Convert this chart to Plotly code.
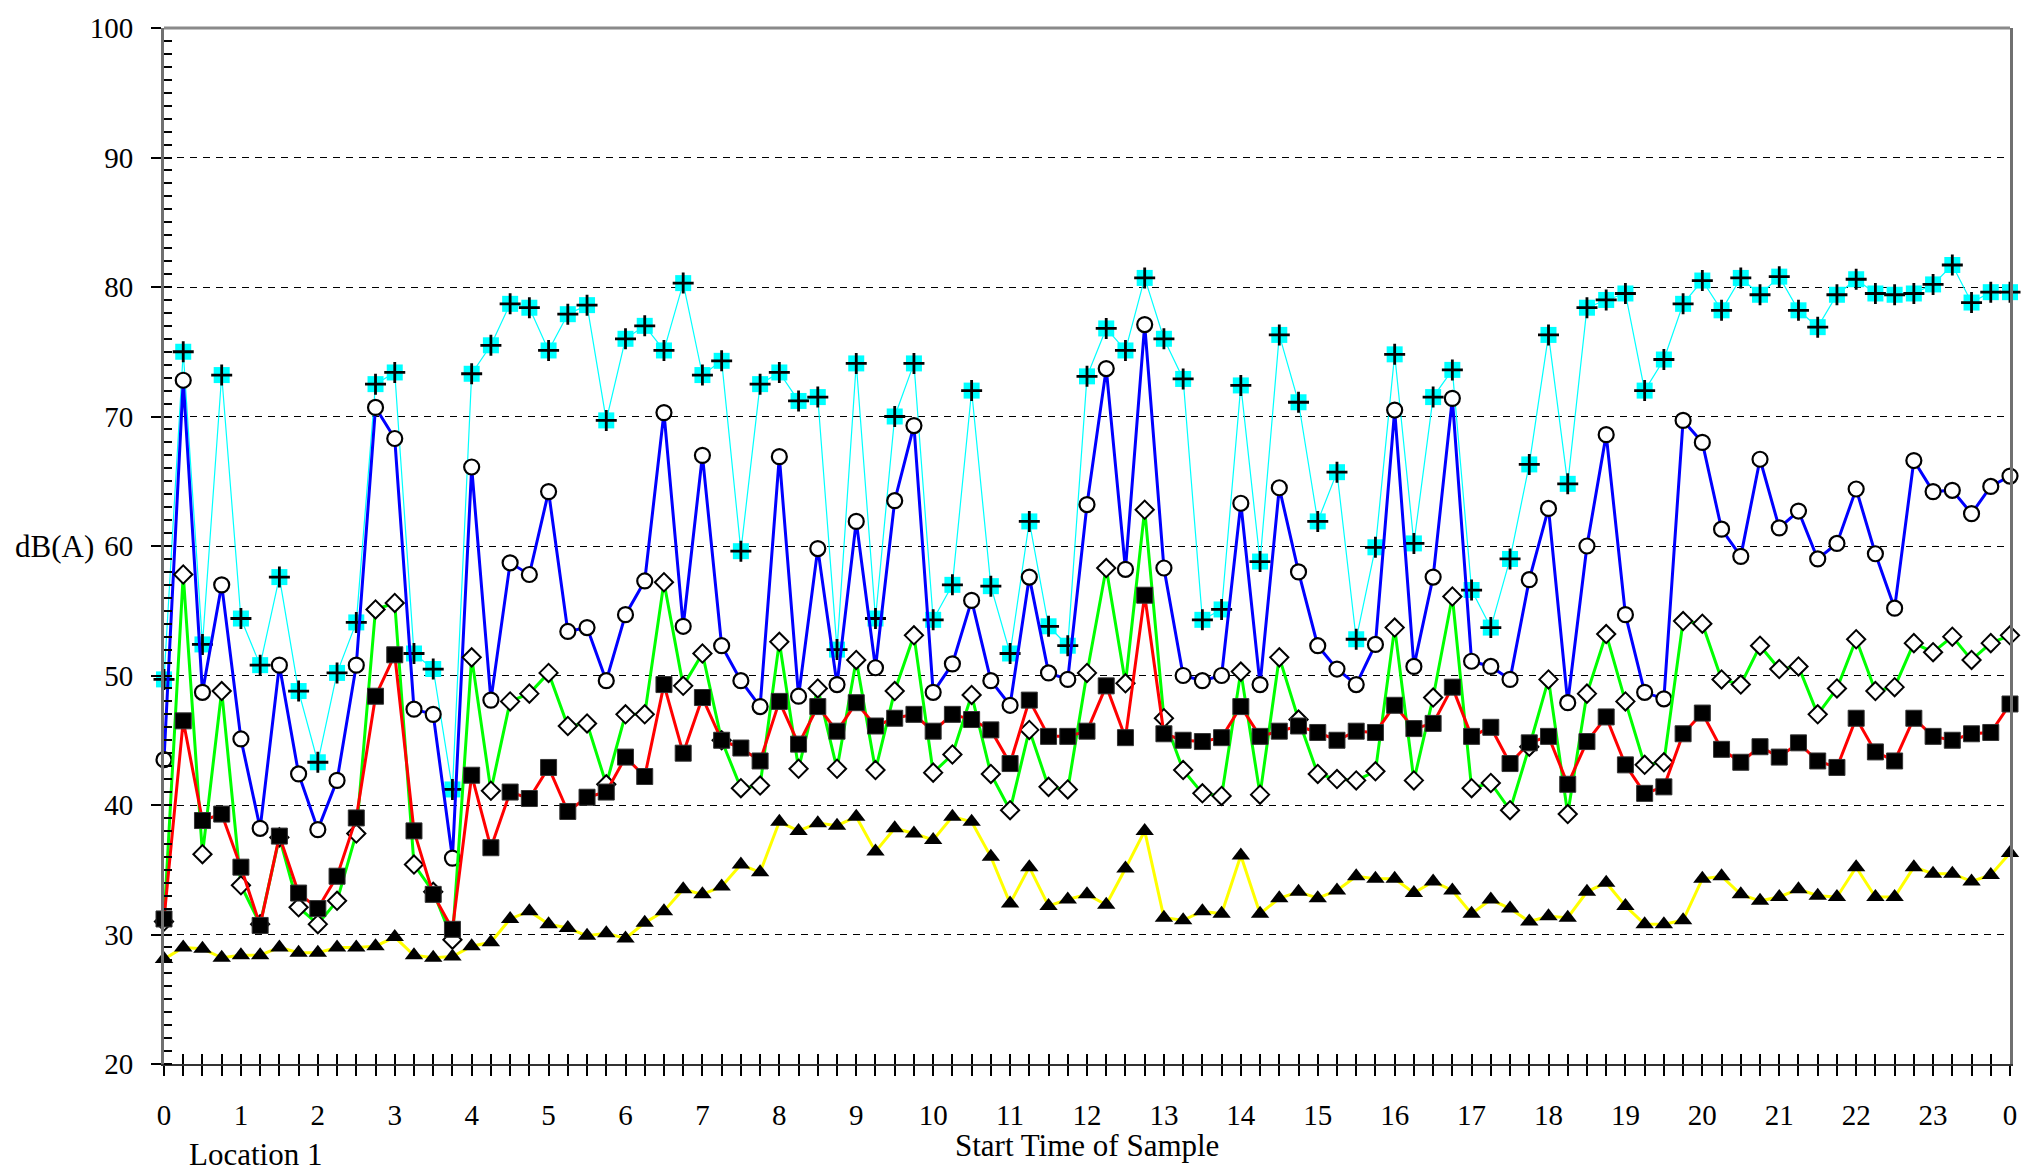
import plotly.graph_objects as go

# Quarter-hour sample start times (hours from midnight)
times = [i / 4 for i in range(97)]
hour_ticks = list(range(25))
hour_labels = [str(h % 24) for h in range(25)]

# Cyan series (square with cross markers)
lmax = [49.7, 75.0, 52.4, 73.2,
        54.4, 50.8, 57.6, 48.8,
        43.3, 50.2, 54.1, 72.5,
        73.4, 51.7, 50.5, 41.2,
        73.3, 75.5, 78.7, 78.4,
        75.1, 77.9, 78.6, 69.7,
        76.0, 77.0, 75.1, 80.3,
        73.2, 74.3, 59.6, 72.5,
        73.4, 71.2, 71.5, 52.0,
        74.1, 54.4, 70.0, 74.1,
        54.3, 57.0, 72.0, 56.9,
        51.7, 61.9, 53.8, 52.3,
        73.1, 76.8, 75.1, 80.7,
        76.0, 72.9, 54.3, 55.1,
        72.4, 58.8, 76.3, 71.1,
        61.9, 65.7, 52.8, 59.9,
        74.8, 60.2, 71.5, 73.6,
        56.6, 53.7, 59.0, 66.3,
        76.3, 64.8, 78.4, 79.0,
        79.5, 72.0, 74.4, 78.7,
        80.5, 78.2, 80.7, 79.4,
        80.8, 78.2, 76.9, 79.4,
        80.6, 79.5, 79.4, 79.5,
        80.2, 81.7, 78.8, 79.6,
        79.6]

# Blue series (open circles)
l1 = [43.5, 72.8, 48.7, 57.0,
      45.1, 38.2, 50.8, 42.4,
      38.1, 41.9, 50.8, 70.7,
      68.3, 47.4, 47.0, 35.9,
      66.1, 48.1, 58.7, 57.8,
      64.2, 53.4, 53.7, 49.6,
      54.7, 57.3, 70.3, 53.8,
      67.0, 52.3, 49.6, 47.6,
      66.9, 48.4, 59.8, 49.3,
      61.9, 50.6, 63.5, 69.3,
      48.7, 50.9, 55.8, 49.6,
      47.7, 57.6, 50.2, 49.7,
      63.2, 73.7, 58.2, 77.1,
      58.3, 50.0, 49.6, 50.0,
      63.3, 49.3, 64.5, 58.0,
      52.3, 50.5, 49.3, 52.4,
      70.5, 50.7, 57.6, 71.4,
      51.1, 50.7, 49.7, 57.4,
      62.9, 47.9, 60.0, 68.6,
      54.7, 48.7, 48.2, 69.7,
      68.0, 61.3, 59.2, 66.7,
      61.4, 62.7, 59.0, 60.2,
      64.4, 59.4, 55.2, 66.6,
      64.2, 64.3, 62.5, 64.6,
      65.4]

# Green series (open diamonds)
l10 = [31.0, 57.8, 36.2, 48.8,
       33.8, 30.8, 37.5, 32.1,
       30.8, 32.6, 37.8, 55.1,
       55.6, 35.4, 33.3, 29.6,
       51.4, 41.1, 48.0, 48.6,
       50.2, 46.1, 46.3, 41.6,
       47.0, 47.0, 57.2, 49.2,
       51.7, 45.0, 41.3, 41.5,
       52.6, 42.8, 49.0, 42.8,
       51.2, 42.7, 48.8, 53.1,
       42.5, 43.9, 48.5, 42.4,
       39.6, 45.8, 41.4, 41.2,
       50.2, 58.3, 49.4, 62.8,
       46.7, 42.7, 40.9, 40.7,
       50.3, 40.8, 51.4, 46.6,
       42.4, 42.0, 41.9, 42.6,
       53.7, 41.9, 48.3, 56.1,
       41.3, 41.7, 39.6, 44.5,
       49.7, 39.3, 48.6, 53.2,
       48.0, 43.1, 43.3, 54.2,
       54.0, 49.7, 49.3, 52.3,
       50.5, 50.7, 47.0, 49.0,
       52.8, 48.8, 49.1, 52.5,
       51.8, 53.0, 51.2, 52.5,
       53.1]

# Red series (filled squares)
leq = [31.2, 46.5, 38.8, 39.3,
       35.2, 30.7, 37.6, 33.2,
       32.0, 34.5, 39.0, 48.4,
       51.6, 38.0, 33.1, 30.4,
       42.3, 36.7, 41.0, 40.5,
       42.9, 39.5, 40.6, 41.0,
       43.7, 42.2, 49.3, 44.0,
       48.3, 45.0, 44.4, 43.4,
       48.0, 44.7, 47.6, 45.7,
       47.9, 46.1, 46.7, 47.0,
       45.7, 47.0, 46.6, 45.8,
       43.2, 48.1, 45.3, 45.3,
       45.7, 49.2, 45.2, 56.2,
       45.5, 45.0, 44.9, 45.2,
       47.6, 45.3, 45.7, 46.1,
       45.6, 45.0, 45.7, 45.6,
       47.7, 45.9, 46.3, 49.1,
       45.3, 46.0, 43.2, 44.8,
       45.3, 41.6, 44.9, 46.8,
       43.1, 40.9, 41.4, 45.5,
       47.1, 44.3, 43.3, 44.5,
       43.7, 44.8, 43.4, 42.9,
       46.7, 44.1, 43.4, 46.7,
       45.3, 45.0, 45.5, 45.6,
       47.8]

# Yellow series (filled triangles)
l90 = [28.1, 29.0, 28.9, 28.2,
       28.4, 28.4, 29.0, 28.6,
       28.6, 29.0, 29.0, 29.1,
       29.8, 28.4, 28.2, 28.3,
       29.1, 29.4, 31.2, 31.8,
       30.8, 30.5, 29.9, 30.1,
       29.7, 30.9, 31.8, 33.5,
       33.1, 33.7, 35.4, 34.8,
       38.7, 38.0, 38.6, 38.4,
       39.1, 36.4, 38.2, 37.8,
       37.3, 39.1, 38.7, 36.0,
       32.4, 35.2, 32.2, 32.7,
       33.1, 32.3, 35.1, 38.0,
       31.3, 31.1, 31.8, 31.6,
       36.1, 31.6, 32.8, 33.3,
       32.8, 33.4, 34.5, 34.3,
       34.3, 33.2, 34.1, 33.4,
       31.6, 32.7, 32.0, 31.0,
       31.4, 31.3, 33.3, 34.0,
       32.2, 30.8, 30.8, 31.1,
       34.3, 34.5, 33.1, 32.6,
       32.9, 33.5, 33.0, 32.9,
       35.2, 32.9, 32.9, 35.2,
       34.7, 34.7, 34.1, 34.6,
       36.3]

FONT = "Liberation Serif"

fig = go.Figure()

fig.add_trace(go.Scatter(
    x=times, y=lmax, mode="lines+markers", cliponaxis=False,
    line=dict(color="#00FFFF", width=1.2),
    marker=dict(symbol="square", size=16, color="#00FFFF", line=dict(width=0)),
    showlegend=False))
fig.add_trace(go.Scatter(
    x=times, y=lmax, mode="markers", cliponaxis=False,
    marker=dict(symbol="cross-thin", size=15, color="black",
                line=dict(width=2.8, color="black")),
    showlegend=False))
fig.add_trace(go.Scatter(
    x=times, y=l1, mode="lines+markers", cliponaxis=False,
    line=dict(color="#0000FF", width=3),
    marker=dict(symbol="circle", size=15, color="white",
                line=dict(width=2.2, color="black")),
    showlegend=False))
fig.add_trace(go.Scatter(
    x=times, y=l10, mode="lines+markers", cliponaxis=False,
    line=dict(color="#00FF00", width=3),
    marker=dict(symbol="diamond", size=14, color="white",
                line=dict(width=2, color="black")),
    showlegend=False))
fig.add_trace(go.Scatter(
    x=times, y=leq, mode="lines+markers", cliponaxis=False,
    line=dict(color="#FF0000", width=3),
    marker=dict(symbol="square", size=16, color="black",
                line=dict(width=1, color="#333333")),
    showlegend=False))
fig.add_trace(go.Scatter(
    x=times, y=l90, mode="lines+markers", cliponaxis=False, xaxis="x2",
    line=dict(color="#FFFF00", width=3),
    marker=dict(symbol="triangle-up", size=16, color="black",
                line=dict(width=0)),
    showlegend=False))

tickfont = dict(family=FONT, size=29, color="black")
titlefont = dict(family=FONT, size=31, color="black")

fig.update_layout(
    width=2034, height=1174,
    margin=dict(l=164, r=24, t=22, b=110),
    paper_bgcolor="white", plot_bgcolor="white",
    font=dict(family=FONT, size=29, color="black"),
    xaxis=dict(
        range=[0, 24], tickmode="array", tickvals=hour_ticks, ticktext=hour_labels,
        ticks="outside", ticklen=10, tickwidth=1.5, tickcolor="black",
        minor=dict(tickmode="linear", tick0=0, dtick=0.25, ticks="outside",
                   ticklen=10, tickwidth=1.5, tickcolor="black", showgrid=False),
        showline=True, linecolor="#333333", linewidth=2,
        showgrid=False, zeroline=False, tickfont=tickfont,
        ticklabelstandoff=14,
    ),
    xaxis2=dict(
        overlaying="x", anchor="y", side="bottom", range=[0, 24],
        tickmode="linear", tick0=0, dtick=0.25, ticks="inside", ticklen=10,
        tickwidth=1.5, tickcolor="black", showticklabels=False,
        showgrid=False, zeroline=False, showline=False,
    ),
    yaxis=dict(
        range=[20, 100], tickmode="linear", tick0=20, dtick=10,
        ticks="outside", ticklen=10, tickwidth=1.5, tickcolor="black",
        minor=dict(tickmode="linear", tick0=20, dtick=1, ticks="inside",
                   ticklen=8, tickwidth=1.5, tickcolor="black", showgrid=False),
        showgrid=True, gridcolor="black", gridwidth=1, griddash="7px,6px",
        showline=True, linecolor="#707070", linewidth=3, mirror=True,
        zeroline=False, tickfont=tickfont, ticklabelstandoff=12,
    ),
    shapes=[dict(type="line", xref="paper", yref="paper", x0=0, x1=1, y0=1, y1=1,
                 line=dict(color="#8a8a8a", width=3), layer="above")],
    annotations=[
        dict(text="dB(A)", xref="paper", yref="paper", x=0, y=0.5,
             xshift=-110, xanchor="center", yanchor="middle", showarrow=False,
             font=titlefont),
        dict(text="Start Time of Sample", xref="paper", yref="paper", x=0.5, y=0,
             yshift=-81, xanchor="center", yanchor="middle", showarrow=False,
             font=titlefont),
        dict(text="Location 1", xref="paper", yref="paper", x=0.0493, y=0,
             yshift=-90, xanchor="center", yanchor="middle", showarrow=False,
             font=titlefont),
    ],
)

fig.write_html(
    "out.html",
    config={"displayModeBar": False},
    post_script="document.body.style.margin='0';document.body.style.padding='0';"
                "document.body.style.overflow='hidden';"
                "document.documentElement.style.overflow='hidden';",
)
